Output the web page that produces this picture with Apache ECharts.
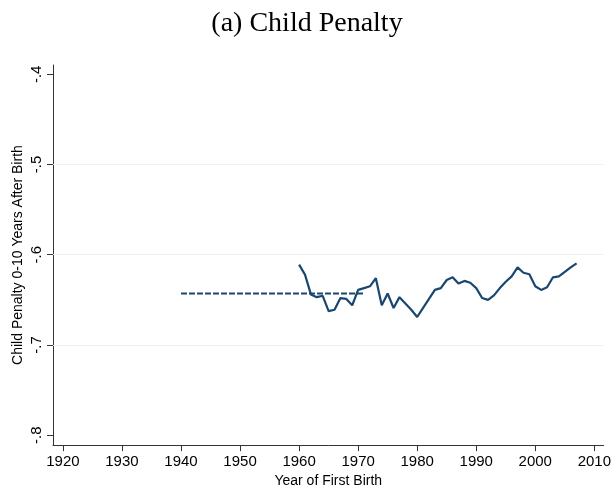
<!DOCTYPE html>
<html lang="en">
<head>
    <meta charset="UTF-8">
    <title>Child Penalty</title>
    <style>
        html, body { margin: 0; padding: 0; background: #fff; }
        #chart { width: 614px; height: 493px; }
    </style>
</head>
<body>
<div id="chart"></div>
<script src="https://cdn.jsdelivr.net/npm/echarts@6/dist/echarts.min.js"></script>
<script>
    // data
    var years = [1960, 1961, 1962, 1963, 1964, 1965, 1966, 1967, 1968, 1969,
                 1970, 1971, 1972, 1973, 1974, 1975, 1976, 1977, 1978, 1979,
                 1980, 1981, 1982, 1983, 1984, 1985, 1986, 1987, 1988, 1989,
                 1990, 1991, 1992, 1993, 1994, 1995, 1996, 1997, 1998, 1999,
                 2000, 2001, 2002, 2003, 2004, 2005, 2006, 2007];
    var penalty = [-0.611, -0.622, -0.644, -0.647, -0.6455, -0.6625, -0.661, -0.648, -0.649, -0.656,
                   -0.639, -0.637, -0.635, -0.626, -0.656, -0.643, -0.659, -0.647, -0.654, -0.661,
                   -0.669, -0.659, -0.649, -0.639, -0.637, -0.628, -0.625, -0.632, -0.629, -0.631,
                   -0.637, -0.648, -0.650, -0.645, -0.637, -0.630, -0.624, -0.614, -0.620, -0.6216,
                   -0.635, -0.639, -0.636, -0.625, -0.624, -0.619, -0.614, -0.6095];
    var meanYears = [1940, 1971];
    var meanValue = -0.643;
    var xTicks = [1920, 1930, 1940, 1950, 1960, 1970, 1980, 1990, 2000, 2010];
    var yTicks = [-0.8, -0.7, -0.6, -0.5, -0.4];
    var yGrid = [-0.7, -0.6, -0.5];

    var navy = '#1a476f';

    function fmtY(v) {
        return v.toFixed(1).replace('0.', '.');
    }

    var chart = echarts.init(document.getElementById('chart'));
    var option = {
        backgroundColor: '#fff',
        animation: false,
        title: {
            text: '(a) Child Penalty',
            left: 'center',
            top: 5,
            textStyle: {
                fontFamily: 'Liberation Serif',
                fontWeight: 'normal',
                fontSize: 28,
                color: '#000'
            }
        },
        grid: { left: 53, right: 6, top: 65, bottom: 47 },
        xAxis: {
            type: 'value',
            min: 1918.32,
            max: 2011.56,
            name: 'Year of First Birth',
            nameLocation: 'middle',
            nameGap: 28,
            nameTextStyle: { fontFamily: 'Liberation Sans', fontSize: 14, color: '#000' },
            axisLine: { show: true, onZero: false, lineStyle: { color: '#333', width: 1 } },
            axisTick: { show: true, length: 6, customValues: xTicks, lineStyle: { color: '#333' } },
            axisLabel: {
                customValues: xTicks,
                margin: 9,
                fontFamily: 'Liberation Sans',
                fontSize: 15,
                color: '#000',
                formatter: function (v) { return String(v); }
            },
            splitLine: { show: false }
        },
        yAxis: {
            type: 'value',
            min: -0.811,
            max: -0.3897,
            name: 'Child Penalty 0-10 Years After Birth',
            nameLocation: 'middle',
            nameRotate: 90,
            nameGap: 28,
            nameMoveOverlap: false,
            nameTextStyle: { fontFamily: 'Liberation Sans', fontSize: 14, color: '#000' },
            axisLine: { show: true, onZero: false, lineStyle: { color: '#333', width: 1 } },
            axisTick: { show: true, length: 6, customValues: yTicks, lineStyle: { color: '#333' } },
            axisLabel: {
                customValues: yTicks,
                rotate: 90,
                margin: 9,
                fontFamily: 'Liberation Sans',
                fontSize: 15,
                color: '#000',
                formatter: fmtY
            },
            splitLine: { show: false }
        },
        series: [
            {
                type: 'line',
                name: 'mean',
                data: meanYears.map(function (y) { return [y, meanValue]; }),
                symbol: 'none',
                z: 2,
                lineStyle: { color: navy, width: 2, type: [6, 2] },
                markLine: {
                    silent: true,
                    symbol: 'none',
                    label: { show: false },
                    lineStyle: { color: '#eaf2f3', width: 1, type: 'solid' },
                    data: yGrid.map(function (v) { return { yAxis: v }; })
                }
            },
            {
                type: 'line',
                name: 'penalty',
                data: years.map(function (y, i) { return [y, penalty[i]]; }),
                symbol: 'none',
                z: 3,
                lineStyle: { color: navy, width: 2.2 }
            }
        ]
    };
    chart.setOption(option);
</script>
</body>
</html>
